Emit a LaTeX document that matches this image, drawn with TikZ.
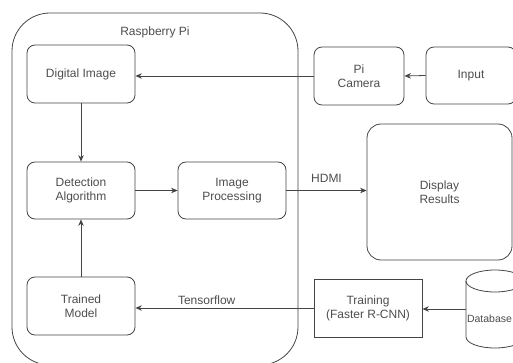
\documentclass[tikz,border=0pt]{standalone}
\usepackage{fontspec}
\setmainfont{Liberation Sans}
\usetikzlibrary{arrows.meta}
\definecolor{lc}{HTML}{444444}
\definecolor{tc}{HTML}{4D4D4D}
\tikzset{
  box/.style={draw=lc, line width=0.8pt, rounded corners=8pt, align=center, text=tc, font=\fontsize{12}{14}\selectfont, inner sep=0pt},
  sqbox/.style={draw=lc, line width=0.8pt, align=center, text=tc, font=\fontsize{12}{14}\selectfont, inner sep=0pt},
  lbl/.style={text=tc, font=\fontsize{12}{14}\selectfont, inner sep=0pt},
  conn/.style={draw=lc, line width=0.8pt, -{Stealth[length=6.5pt,width=5.5pt]}}
}
\begin{document}
\begin{tikzpicture}[x=1pt,y=-1pt]
\useasboundingbox (0,0) rectangle (513,363);
\clip (0,0) rectangle (513,363);
% container
\node[draw=lc, line width=0.8pt, rounded corners=38pt, minimum width=286pt, minimum height=352pt, inner sep=0pt] (rpi) at (155,189) {};
\node[lbl] (rpilbl) at (155,32) {Raspberry Pi};
% boxes
\node[box, minimum width=108pt, minimum height=58pt] (dig) at (81,74) {Digital Image};
\node[box, minimum width=108pt, minimum height=57pt] (det) at (81,190.5) {Detection\\Algorithm};
\node[box, minimum width=108pt, minimum height=58pt] (trn) at (81,306) {Trained\\Model};
\node[box, minimum width=108pt, minimum height=57pt] (imp) at (232,190.5) {Image\\Processing};
\node[box, minimum width=90pt, minimum height=58pt] (cam) at (359,76) {Pi\\Camera};
\node[box, minimum width=90pt, minimum height=57pt] (inp) at (471,75.5) {Input};
\node[box, rounded corners=14pt, minimum width=145pt, minimum height=136pt] (disp) at (439.5,192) {Display\\Results};
\node[sqbox, minimum width=108pt, minimum height=58pt] (trg) at (368,308) {Training\\(Faster R-CNN)};
% database cylinder
\node[minimum width=58pt, minimum height=78pt, inner sep=0pt] (db) at (495,309) {};
\draw[draw=lc, line width=0.8pt] (495,281) ellipse [x radius=29pt, y radius=11pt];
\draw[draw=lc, line width=0.8pt] (466,281) -- (466,337) arc[start angle=180, end angle=360, x radius=29pt, y radius=11pt] -- (524,281);
\node[lbl, font=\fontsize{10.5}{12}\selectfont] (dbt) at (489.5,319) {Database};
% connectors
\draw[conn] (inp.west) -- (cam.east);
\draw[conn] (cam.west) -- (cam.west -| dig.east);
\draw[conn] (dig.south) -- (det.north);
\draw[conn] (trn.north) -- (det.south);
\draw[conn] (det.east) -- (imp.west);
\draw[conn] (imp.east) -- (imp.east -| disp.west) node[lbl, midway, above=8pt] (hdmi) {HDMI};
\draw[conn] (trg.west) -- (trg.west -| trn.east) node[lbl, pos=0.6, above=3pt] (tf) {Tensorflow};
\draw[conn] (db.west) -- (db.west -| trg.east);
\end{tikzpicture}
\end{document}
